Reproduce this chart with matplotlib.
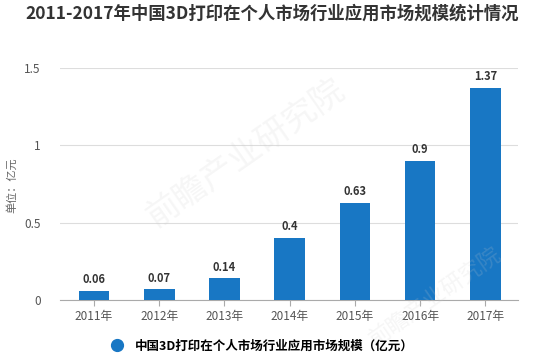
import matplotlib
matplotlib.use("Agg")
import matplotlib.pyplot as plt
from matplotlib.lines import Line2D

plt.rcParams['font.family'] = ['Noto Sans CJK SC', 'DejaVu Sans']

title = "2011-2017年中国3D打印在个人市场行业应用市场规模统计情况"
years = ["2011年", "2012年", "2013年", "2014年", "2015年", "2016年", "2017年"]
values = [0.06, 0.07, 0.14, 0.4, 0.63, 0.9, 1.37]
series_name = "中国3D打印在个人市场行业应用市场规模（亿元）"
y_label = "单位：亿元"
y_ticks = [0, 0.5, 1, 1.5]
y_tick_labels = ["0", "0.5", "1", "1.5"]

bar_color = "#1877c4"

fig = plt.figure(figsize=(5.45, 3.58), dpi=100)
ax = fig.add_axes([60/545, 1 - 300/358, (518-60)/545, (300-68)/358])

x = list(range(len(years)))
ax.bar(x, values, width=0.47, color=bar_color, zorder=3)
for xi, v in zip(x, values):
    ax.text(xi, v + 0.03, f"{v:g}", ha="center", va="bottom", fontsize=8,
            fontweight="bold", color="#333333", zorder=4)

ax.set_xlim(-0.52, 6.5)
ax.set_ylim(0, 1.5)
ax.set_yticks(y_ticks)
ax.set_yticklabels(y_tick_labels)
ax.set_xticks(x)
ax.set_xticklabels(years)
ax.tick_params(axis="y", length=0, pad=14, labelsize=8.5, labelcolor="#555555")
ax.tick_params(axis="x", length=4, color="#aaaaaa", labelsize=8.5, labelcolor="#555555", pad=3)
ax.grid(axis="y", color="#dddddd", linewidth=0.8, zorder=0)
for s in ["top", "right", "left"]:
    ax.spines[s].set_visible(False)
ax.spines["bottom"].set_color("#aaaaaa")
ax.spines["bottom"].set_linewidth(0.8)

fig.text(12/545, 1 - 185/358, y_label, rotation=90, ha="center", va="center",
         fontsize=8, color="#666666")

fig.text(0.5, 1 - 14/358, title, ha="center", va="center", fontsize=12.5,
         fontweight="bold", color="#333333")

# watermark
fig.text(0.45, 0.57, "前瞻产业研究院", rotation=35, ha="center", va="center",
         fontsize=24, color="#cccccc", alpha=0.18, zorder=0)
fig.text(0.80, 0.17, "前瞻产业研究院", rotation=35, ha="center", va="center",
         fontsize=16, color="#cccccc", alpha=0.18, zorder=0)

handle = Line2D([], [], marker="o", linestyle="none", markersize=8.5,
                markerfacecolor=bar_color, markeredgecolor=bar_color)
fig.legend([handle], [series_name], loc="center", bbox_to_anchor=(0.475, 1 - 346/358),
           frameon=False, handletextpad=0.4, prop={'weight': 'bold', 'size': 9})

fig.savefig("out.png", dpi=100)
